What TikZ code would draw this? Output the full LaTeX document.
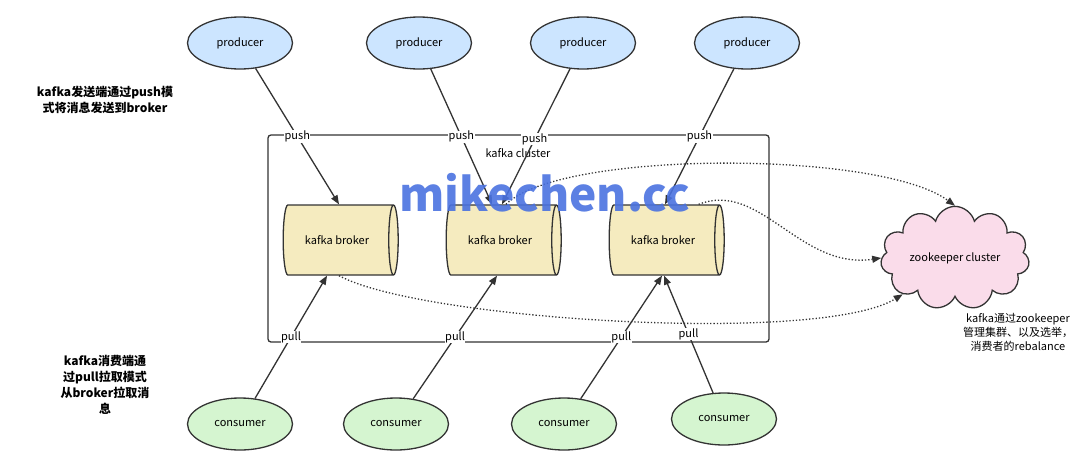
\documentclass[tikz,border=0pt]{standalone}
\usepackage{fontspec}
\setmainfont{Noto Sans CJK SC}
\usetikzlibrary{shapes.geometric,shapes.symbols,arrows.meta}
\definecolor{prodblue}{HTML}{CCE5FF}
\definecolor{consgreen}{HTML}{D5F5D0}
\definecolor{brokeryellow}{HTML}{F5EBBF}
\definecolor{zkpink}{HTML}{FADCEA}
\definecolor{markblue}{HTML}{4A72E0}
\tikzset{
  client/.style={ellipse, draw=black!80, line width=1.3pt, minimum width=105pt, minimum height=52pt, font=\fontsize{11}{13}\selectfont},
  producer/.style={client, fill=prodblue},
  consumer/.style={client, fill=consgreen},
  broker/.style={cylinder, draw=black!80, line width=1.3pt, fill=brokeryellow, shape aspect=0.6,
    minimum height=115pt, minimum width=70pt, font=\fontsize{11}{13}\selectfont},
  link/.style={draw=black!80, line width=1.3pt, -{Triangle[length=9pt,width=7pt]}},
  zklink/.style={draw=black!80, line width=1.3pt, dotted, -{Triangle[length=9pt,width=7pt]}},
  tag/.style={fill=white, inner sep=0.5pt, font=\fontsize{11}{13}\selectfont},
  note/.style={align=center, font=\bfseries\fontsize{12}{16}\selectfont}
}
\begin{document}
\begin{tikzpicture}[x=1pt,y=-1pt]
  \useasboundingbox (0,0) rectangle (1080,456);

  % cluster frame
  \draw[draw=black!80, line width=1.3pt, rounded corners=3pt] (268,135) rectangle (769,342);
  \node[font=\fontsize{11}{13}\selectfont] (cl) at (518,153) {kafka cluster};

  % producers and consumers
  \node[producer] (p1) at (240,43) {producer};
  \node[producer] (p2) at (419,43) {producer};
  \node[producer] (p3) at (583,43) {producer};
  \node[producer] (p4) at (747,43) {producer};
  \node[consumer] (c1) at (240,424) {consumer};
  \node[consumer] (c2) at (396,424) {consumer};
  \node[consumer] (c3) at (564,424) {consumer};
  \node[consumer] (c4) at (724,419) {consumer};

  % brokers
  \node[broker] (b1) at (337,240) {kafka broker};
  \node[broker] (b2) at (500,240) {kafka broker};
  \node[broker] (b3) at (663,240) {kafka broker};

  % zookeeper
  \node[cloud, cloud puffs=11, aspect=1.8, draw=black!80, line width=1.3pt, fill=zkpink,
    minimum width=140pt, minimum height=82pt, font=\fontsize{11}{13}\selectfont] (zk) at (955,258) {zookeeper cluster};

  % push
  \draw[link] (p1) -- node[tag, pos=0.5] {push} ([xshift=2pt]b1.north);
  \draw[link] (p2) -- node[tag, pos=0.5] {push} ([xshift=-8pt]b2.north);
  \draw[link] (p3) -- node[tag, pos=0.52] {push} ([xshift=2pt]b2.north);
  \draw[link] (p4) -- node[tag, pos=0.5] {push} ([xshift=2pt]b3.north);

  % pull
  \draw[link] (c1) -- node[tag, pos=0.5] {pull} ([xshift=-10pt]b1.south);
  \draw[link] (c2) -- node[tag, pos=0.5] {pull} ([xshift=-3pt]b2.south);
  \draw[link] (c3) -- node[tag, pos=0.5] {pull} ([xshift=-1pt]b3.south);
  \draw[link] (c4) -- node[tag, pos=0.5] {pull} ([xshift=1pt]b3.south);

  % zookeeper links
  \draw[zklink] ([xshift=6pt]b2.north) .. controls (560,150) and (880,150) .. (zk.north);
  \draw[zklink] ([xshift=2pt]b1.south) .. controls (420,320) and (820,345) .. (zk.south west);
  \draw[zklink] (b3.north east) .. controls (760,180) and (800,270) .. (zk.west);

  % notes
  \node[note] (npush) at (105,100) {kafka发送端通过push模\\式将消息发送到broker};
  \node[note] (npull) at (105,385) {kafka消费端通\\过pull拉取模式\\从broker拉取消\\息};
  \node[align=center, font=\fontsize{11}{14}\selectfont] (nzk) at (1018,332) {kafka通过zookeeper\\管理集群、以及选举，\\消费者的rebalance};

  % watermark
  \node[text=markblue, font=\bfseries\fontsize{46}{50}\selectfont, opacity=0.9] (wm) at (545,193) {mikechen.cc};
\end{tikzpicture}
\end{document}
